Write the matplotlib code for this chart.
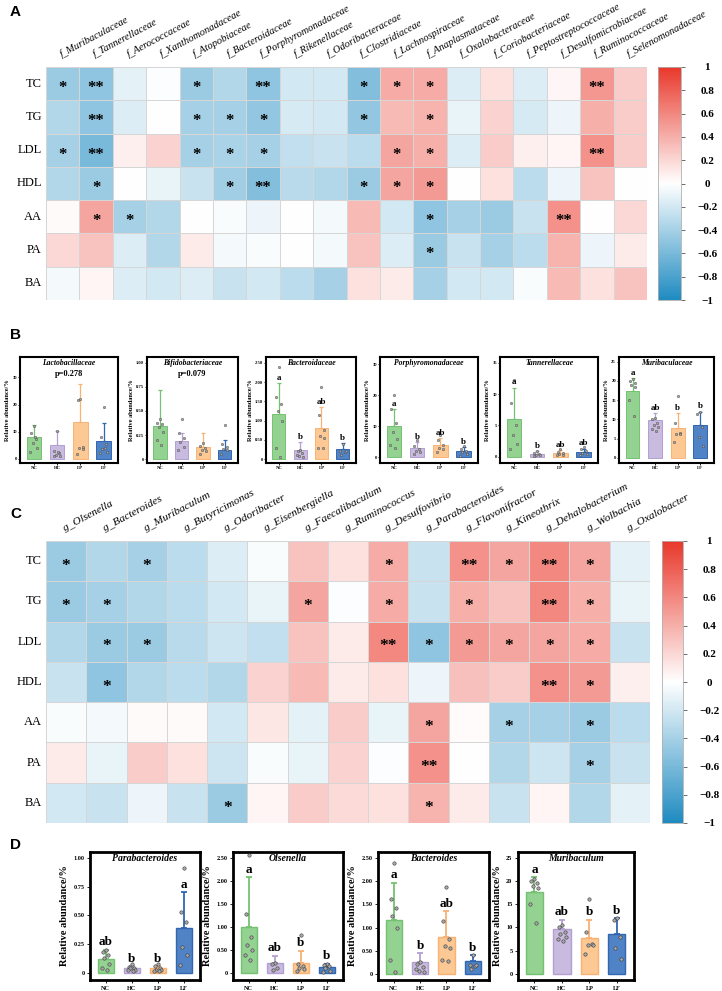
import numpy as np
import matplotlib
matplotlib.use("Agg")
import matplotlib.pyplot as plt
from matplotlib.colors import LinearSegmentedColormap

W, H = 722, 991

# ---------------- data ----------------
ROWS = ["TC", "TG", "LDL", "HDL", "AA", "PA", "BA"]

a_cols = ["f_Muribaculaceae", "f_Tannerellaceae", "f_Aerococcaceae", "f_Xanthomonadaceae",
          "f_Atopobiaceae", "f_Bacteroidaceae", "f_Porphyromonadaceae", "f_Rikenellaceae",
          "f_Odoribacteraceae", "f_Clostridiaceae", "f_Lachnospiraceae", "f_Anaplasmataceae",
          "f_Oxalobacteraceae", "f_Coriobacteriaceae", "f_Peptostreptococcaceae",
          "f_Desulfomicrobiaceae", "f_Ruminococcaceae", "f_Selenomonadaceae"]
a_tc = [-0.45, -0.50, -0.12, -0.02, -0.45, -0.35, -0.50, -0.20, -0.20, -0.55, 0.42, 0.42, -0.15, 0.15, -0.15, 0.04, 0.52, 0.25]
a_tg = [-0.35, -0.50, -0.15, 0.00, -0.40, -0.40, -0.48, -0.18, -0.20, -0.48, 0.35, 0.38, -0.10, 0.22, -0.18, -0.08, 0.40, 0.25]
a_ldl = [-0.40, -0.60, 0.08, 0.22, -0.40, -0.38, -0.40, -0.28, -0.25, -0.30, 0.45, 0.40, -0.15, 0.25, 0.08, 0.05, 0.55, 0.25]
a_hdl = [-0.35, -0.45, 0.00, -0.10, -0.25, -0.42, -0.55, -0.32, -0.35, -0.45, 0.45, 0.50, 0.00, 0.15, -0.30, -0.08, 0.30, 0.00]
a_aa = [0.03, 0.45, -0.40, -0.35, 0.00, -0.03, -0.08, 0.00, -0.05, 0.35, -0.20, -0.50, -0.40, -0.45, -0.25, 0.55, 0.00, 0.20]
a_pa = [0.20, 0.30, -0.15, -0.35, 0.10, -0.05, -0.03, 0.00, -0.05, 0.30, -0.15, -0.45, -0.25, -0.40, -0.30, 0.38, -0.08, 0.10]
a_ba = [-0.05, 0.05, -0.15, -0.20, -0.15, -0.25, -0.20, -0.30, -0.40, 0.15, 0.10, -0.40, -0.20, -0.20, -0.03, 0.35, 0.15, 0.30]
a_sig = [
    ["*", "**", "", "", "*", "", "**", "", "", "*", "*", "*", "", "", "", "", "**", ""],
    ["", "**", "", "", "*", "*", "*", "", "", "*", "", "*", "", "", "", "", "", ""],
    ["*", "**", "", "", "*", "*", "*", "", "", "", "*", "*", "", "", "", "", "**", ""],
    ["", "*", "", "", "", "*", "**", "", "", "*", "*", "*", "", "", "", "", "", ""],
    ["", "*", "*", "", "", "", "", "", "", "", "", "*", "", "", "", "**", "", ""],
    ["", "", "", "", "", "", "", "", "", "", "", "*", "", "", "", "", "", ""],
    [""] * 18,
]

c_cols = ["g_Olsenella", "g_Bacteroides", "g_Muribaculum", "g_Butyricimonas", "g_Odoribacter",
          "g_Eisenbergiella", "g_Faecalibaculum", "g_Ruminococcus", "g_Desulfovibrio",
          "g_Parabacteroides", "g_Flavonifractor", "g_Kineothrix", "g_Dehalobacterium",
          "g_Wolbachia", "g_Oxalobacter"]
c_tc = [-0.45, -0.35, -0.40, -0.30, -0.15, -0.03, 0.30, 0.15, 0.42, -0.25, 0.55, 0.45, 0.60, 0.45, -0.12]
c_tg = [-0.45, -0.40, -0.35, -0.30, -0.20, -0.10, 0.45, -0.02, 0.42, -0.25, 0.40, 0.30, 0.60, 0.40, -0.10]
c_ldl = [-0.35, -0.45, -0.45, -0.32, -0.22, -0.28, 0.30, 0.10, 0.60, -0.50, 0.50, 0.45, 0.45, 0.42, -0.25]
c_hdl = [-0.25, -0.50, -0.35, -0.30, -0.35, 0.22, 0.35, 0.10, 0.15, -0.08, 0.32, 0.25, 0.55, 0.50, 0.08]
c_aa = [-0.03, -0.05, 0.03, 0.03, -0.20, 0.12, -0.12, 0.25, -0.10, 0.45, 0.02, -0.40, -0.40, -0.45, -0.30]
c_pa = [0.10, -0.10, 0.25, 0.15, -0.22, -0.03, -0.10, 0.22, -0.02, 0.55, 0.00, -0.35, -0.22, -0.40, -0.25]
c_ba = [-0.20, -0.25, -0.08, -0.25, -0.45, 0.05, 0.25, 0.18, 0.15, 0.38, 0.10, -0.25, 0.05, -0.35, -0.12]
c_sig = [
    ["*", "", "*", "", "", "", "", "", "*", "", "**", "*", "**", "*", ""],
    ["*", "*", "", "", "", "", "*", "", "*", "", "*", "", "**", "*", ""],
    ["", "*", "*", "", "", "", "", "", "**", "*", "*", "*", "*", "*", ""],
    ["", "*", "", "", "", "", "", "", "", "", "", "", "**", "*", ""],
    ["", "", "", "", "", "", "", "", "", "*", "", "*", "", "*", ""],
    ["", "", "", "", "", "", "", "", "", "**", "", "", "", "*", ""],
    ["", "", "", "", "*", "", "", "", "", "*", "", "", "", "", ""],
]

GROUPS = ["NC", "HC", "LP", "LF"]

# panel B
lacto_mean = [8.2, 5.0, 13.5, 6.7]
lacto_sd = [4.3, 5.2, 14.0, 6.5]
lacto_pts = [[12, 9.5, 7.5, 6, 4, 2.5, 8], [10.2, 3, 2, 1.5, 1.2, 1, 2.5],
             [22, 21.5, 4.5, 4, 3.5, 1.8], [19, 8, 5.5, 3.5, 2.5, 2, 4]]
bifido_mean = [0.34, 0.19, 0.13, 0.10]
bifido_sd = [0.38, 0.08, 0.14, 0.10]
bifido_pts = [[0.42, 0.38, 0.36, 0.33, 0.28, 0.20, 0.15], [0.42, 0.27, 0.22, 0.18, 0.13, 0.10],
              [0.17, 0.14, 0.12, 0.10, 0.08, 0.05], [0.35, 0.16, 0.13, 0.11, 0.09, 0.05]]
bacfam_mean = [1.17, 0.25, 0.80, 0.27]
bacfam_sd = [0.80, 0.20, 0.55, 0.14]
bacfam_pts = [[2.4, 1.62, 1.42, 1.25, 1.0, 0.3, 0.05], [0.25, 0.22, 0.15, 0.07, 0.05, 0.10],
              [1.87, 1.15, 0.75, 0.6, 0.55, 0.3, 0.28], [0.4, 0.2, 0.18, 0.1, 0.2]]
bacfam_let = ["a", "b", "ab", "b"]
porph_mean = [10.0, 3.0, 3.8, 2.0]
porph_sd = [5.5, 1.8, 2.4, 1.3]
porph_pts = [[20, 15.5, 11, 8, 6, 4, 3], [5.5, 3.5, 2.5, 2, 1.5, 1],
             [7, 5.5, 4, 3, 2.5, 1.5], [3.5, 2.5, 2, 1.5, 1, 0.5]]
porph_let = ["a", "b", "ab", "b"]
tann_mean = [6.0, 0.5, 0.6, 0.8]
tann_sd = [5.0, 0.4, 0.4, 0.5]
tann_pts = [[12.3, 8.6, 5, 3.5, 2, 1.2], [0.9, 0.6, 0.5, 0.3, 0.2, 0.1],
            [1.2, 0.8, 0.6, 0.4, 0.3, 0.2], [1.5, 1.2, 0.9, 0.6, 0.4, 0.3]]
tann_let = ["a", "b", "ab", "ab"]
murfam_mean = [17.5, 9.8, 7.8, 8.5]
murfam_sd = [3.3, 1.8, 3.8, 3.5]
murfam_pts = [[20.5, 20, 19.5, 19, 18.5, 15, 11], [10.5, 10, 9, 8.5, 8, 7.5, 7],
              [16, 9, 6.5, 6.3, 6.2, 4.2], [12, 11.5, 8, 5.5, 3.2]]
murfam_let = ["a", "ab", "b", "b"]

# panel D
parab_mean = [0.12, 0.04, 0.04, 0.39]
parab_sd = [0.08, 0.02, 0.02, 0.31]
parab_pts = [[0.2, 0.18, 0.16, 0.13, 0.08, 0.04, 0.03], [0.08, 0.05, 0.04, 0.04, 0.03, 0.03, 0.02],
             [0.08, 0.06, 0.04, 0.03, 0.03, 0.02, 0.02], [0.91, 0.53, 0.44, 0.23, 0.16, 0.07]]
parab_let = ["ab", "b", "b", "a"]
olsen_mean = [1.0, 0.22, 0.21, 0.14]
olsen_sd = [1.07, 0.16, 0.27, 0.06]
olsen_pts = [[2.55, 1.27, 0.77, 0.6, 0.5, 0.4, 0.28], [0.22, 0.2, 0.1, 0.06],
             [0.82, 0.2, 0.15, 0.1, 0.08, 0.05], [0.2, 0.17, 0.15, 0.1, 0.05, 0.02]]
olsen_let = ["a", "ab", "b", "b"]
bact_mean = [1.17, 0.25, 0.80, 0.27]
bact_sd = [0.80, 0.20, 0.55, 0.13]
bact_pts = bacfam_pts
bact_let = ["a", "b", "ab", "b"]
muri_mean = [17.5, 9.7, 7.8, 8.6]
muri_sd = [3.3, 1.9, 3.8, 3.4]
muri_pts = murfam_pts
muri_let = ["a", "ab", "b", "b"]

# ---------------- style ----------------
plt.rcParams["font.family"] = ["Liberation Serif", "DejaVu Serif"]
plt.rcParams["axes.unicode_minus"] = True
CMAP = LinearSegmentedColormap.from_list("rb", ["#1f8bc1", "#ffffff", "#e9382b"])
FACE = ["#93d290", "#c9badf", "#fcc893", "#5083c5"]
EDGE = ["#74c271", "#b3a0d3", "#f8b274", "#3266b0"]
JIT = [0.0, -0.12, 0.1, -0.06, 0.13, -0.15, 0.05, -0.02]


def box(x0, y0, x1, y1):
    return [x0 / W, 1 - y1 / H, (x1 - x0) / W, (y1 - y0) / H]


def heatmap(fig, rect, crect, vals, sig, cols, col_fs, star_fs):
    ax = fig.add_axes(box(*rect))
    vals = np.array(vals)
    nr, nc = vals.shape
    mesh = ax.pcolormesh(np.arange(nc + 1), np.arange(nr + 1), vals, cmap=CMAP,
                         vmin=-1, vmax=1, edgecolors="#d6d6d6", linewidth=0.6)
    ax.set_xlim(0, nc)
    ax.set_ylim(nr, 0)
    ax.set_xticks([])
    ax.set_yticks([])
    for s in ax.spines.values():
        s.set_visible(False)
    for i, r in enumerate(ROWS):
        ax.annotate(r, (0, i + 0.5), xytext=(-3, 0), textcoords="offset points",
                    ha="right", va="center", fontsize=9)
    for j, c in enumerate(cols):
        ax.annotate(c, (j + 0.5, 0), xytext=(0, 6), textcoords="offset points",
                    rotation=28, rotation_mode="anchor", ha="left", va="bottom",
                    fontsize=col_fs, style="italic")
    for i in range(nr):
        for j in range(nc):
            if sig[i][j]:
                ax.annotate(sig[i][j], (j + 0.5, i + 0.5), xytext=(0, -0.5 * star_fs),
                            textcoords="offset points", ha="center", va="baseline",
                            fontsize=star_fs, fontweight="bold")
    cax = fig.add_axes(box(*crect))
    cb = fig.colorbar(mesh, cax=cax, ticks=np.linspace(-1, 1, 11))
    cb.ax.set_yticklabels(["\u22121", "\u22120.8", "\u22120.6", "\u22120.4", "\u22120.2", "0",
                           "0.2", "0.4", "0.6", "0.8", "1"])
    cb.outline.set_edgecolor("#b0b0b0")
    cb.outline.set_linewidth(0.6)
    cb.ax.tick_params(length=3, width=0.6, color="#555555", pad=16, labelsize=8)
    for lab in cb.ax.get_yticklabels():
        lab.set_ha("center")
        lab.set_fontweight("bold")


def bars(fig, rect, means, sd, pts, letters, title, ticks, ticklabels, ylim, big, pval=None):
    ax = fig.add_axes(box(*rect))
    fs_tick = 4.5 if big else 3.3
    ms = 6 if big else 3
    for i in range(4):
        ax.bar(i, means[i], width=0.62, color=FACE[i], edgecolor=EDGE[i],
               linewidth=1.0 if big else 0.7, zorder=2)
        ax.errorbar(i, means[i], yerr=[[0], [sd[i]]], color=EDGE[i],
                    capsize=2.5 if big else 1.5, elinewidth=1.3 if big else 0.9,
                    capthick=1.3 if big else 0.9, zorder=1)
        p = np.array(pts[i])
        offs = np.array(JIT[:len(p)])
        ax.scatter(i + offs, p, s=ms, facecolor="#a8a8a8", edgecolor="#3a3a3a",
                   linewidth=0.4 if big else 0.3, zorder=3)
        if letters and letters[i]:
            ax.text(i, means[i] + sd[i] + (ylim[1] - ylim[0]) * 0.012, letters[i],
                    ha="center", va="bottom", fontsize=9.5 if big else 6.5, fontweight="bold")
    ax.text(0.5, 0.985, title, transform=ax.transAxes, ha="center", va="top",
            fontsize=7 if big else 5.5, style="italic", fontweight="bold")
    if pval:
        ax.text(0.5, 0.88, pval, transform=ax.transAxes, ha="center", va="top",
                fontsize=6, fontweight="bold")
    ax.set_xlim(-0.6, 3.62)
    ax.set_ylim(*ylim)
    ax.set_xticks(range(4))
    ax.set_xticklabels(GROUPS, fontweight="bold")
    ax.set_yticks(ticks)
    ax.set_yticklabels(ticklabels, fontweight="bold")
    ax.tick_params(labelsize=fs_tick, length=2 if big else 1.2, width=0.6, pad=2 if big else 1)
    for s in ax.spines.values():
        s.set_linewidth(2.0 if big else 1.5)
    ax.set_ylabel("Relative abundance/%", fontsize=7.5 if big else 4.6, fontweight="bold",
                  labelpad=3 if big else 1.5)
    return ax


fig = plt.figure(figsize=(W / 100, H / 100), dpi=100)

for lab, y in [("A", 12), ("B", 335), ("C", 514), ("D", 845)]:
    fig.text(10 / W, 1 - y / H, lab, fontsize=11, fontweight="bold",
             family="Liberation Sans", ha="left", va="center")

heatmap(fig, (46, 67, 647, 300), (658, 67, 681, 300),
        [a_tc, a_tg, a_ldl, a_hdl, a_aa, a_pa, a_ba], a_sig, a_cols, 7.5, 12)
heatmap(fig, (46, 541, 650, 823), (662, 541, 683, 823),
        [c_tc, c_tg, c_ldl, c_hdl, c_aa, c_pa, c_ba], c_sig, c_cols, 8.2, 12.5)

by0, by1 = 357, 463
bars(fig, (20, by0, 118, by1), lacto_mean, lacto_sd, lacto_pts, None,
     "Lactobacillaceae", [0, 10, 20, 30], ["0", "10", "20", "30"], (-1.5, 37.5), False,
     pval="p=0.278")
bars(fig, (147, by0, 238, by1), bifido_mean, bifido_sd, bifido_pts, None,
     "Bifidobacteriaceae", [0, 0.25, 0.5, 0.75, 1.0],
     ["0", "0.25", "0.50", "0.75", "1.00"], (-0.04, 1.06), False, pval="p=0.079")
bars(fig, (266, by0, 356, by1), bacfam_mean, bacfam_sd, bacfam_pts, bacfam_let,
     "Bacteroidaceae", [0, 0.5, 1.0, 1.5, 2.0, 2.5],
     ["0", "0.50", "1.00", "1.50", "2.00", "2.50"], (-0.1, 2.65), False)
bars(fig, (380, by0, 478, by1), porph_mean, porph_sd, porph_pts, porph_let,
     "Porphyromonadaceae", [0, 10, 20, 30], ["0", "10", "20", "30"], (-1.9, 32.3), False)
bars(fig, (500, by0, 598, by1), tann_mean, tann_sd, tann_pts, tann_let,
     "Tannerellaceae", [0, 5, 10, 15], ["0", "5", "10", "15"], (-1.0, 15.9), False)
bars(fig, (619, by0, 714, by1), murfam_mean, murfam_sd, murfam_pts, murfam_let,
     "Muribaculaceae", [0, 5, 10, 15, 20, 25], ["0", "5", "10", "15", "20", "25"], (-1.3, 26.2), False)

dy0, dy1 = 852, 980
bars(fig, (90, dy0, 200, dy1), parab_mean, parab_sd, parab_pts, parab_let,
     "Parabacteroides", [0, 0.25, 0.5, 0.75, 1.0],
     ["0", "0.25", "0.50", "0.75", "1.00"], (-0.06, 1.05), True)
bars(fig, (233, dy0, 343, dy1), olsen_mean, olsen_sd, olsen_pts, olsen_let,
     "Olsenella", [0, 0.5, 1.0, 1.5, 2.0, 2.5],
     ["0", "0.50", "1.00", "1.50", "2.00", "2.50"], (-0.15, 2.62), True)
bars(fig, (378, dy0, 489, dy1), bact_mean, bact_sd, bact_pts, bact_let,
     "Bacteroides", [0, 0.5, 1.0, 1.5, 2.0, 2.5],
     ["0", "0.50", "1.00", "1.50", "2.00", "2.50"], (-0.13, 2.63), True)
bars(fig, (518, dy0, 634, dy1), muri_mean, muri_sd, muri_pts, muri_let,
     "Muribaculum", [0, 5, 10, 15, 20, 25], ["0", "5", "10", "15", "20", "25"], (-1.3, 26.2), True)

fig.savefig("out.png", dpi=100)
